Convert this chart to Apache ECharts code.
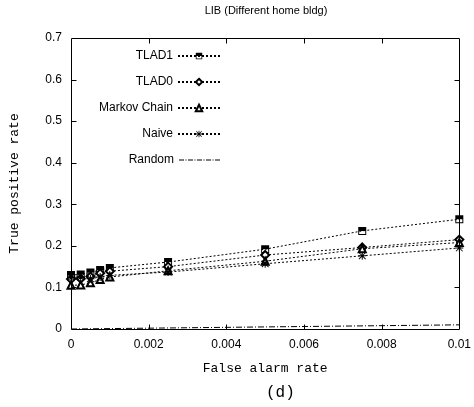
<!DOCTYPE html>
<html>
<head>
<meta charset="utf-8">
<script src="https://cdn.jsdelivr.net/npm/echarts@6/dist/echarts.min.js"></script>
<style>
  html, body { margin: 0; padding: 0; background: #fff; }
  #chart { width: 474px; height: 407px; }
</style>
</head>
<body>
<div id="chart"></div>
<script>
// False alarm rate sample points
const falseAlarm = [0, 0.00025, 0.0005, 0.00075, 0.001, 0.0025, 0.005, 0.0075, 0.01];
// True positive rate per detector
const tlad1  = [0.130, 0.131, 0.136, 0.142, 0.147, 0.161, 0.192, 0.236, 0.264];
const tlad0  = [0.120, 0.121, 0.126, 0.134, 0.139, 0.150, 0.178, 0.196, 0.215];
const markov = [0.105, 0.106, 0.111, 0.119, 0.125, 0.140, 0.163, 0.193, 0.208];
const naive  = [0.124, 0.125, 0.121, 0.125, 0.129, 0.137, 0.157, 0.176, 0.195];
// Random guessing baseline: TPR equals FAR
const randomX = [0, 0.01];
const randomY = [0, 0.01];
const seriesNames = ['TLAD1', 'TLAD0', 'Markov Chain', 'Naive', 'Random'];
// Tick values on the framed axes
const xTicks = [0, 0.002, 0.004, 0.006, 0.008, 0.01];
const yTicks = [0, 0.1, 0.2, 0.3, 0.4, 0.5, 0.6, 0.7];

const pairs = (xs, ys) => xs.map((x, i) => [x, ys[i]]);

// Square with filled top half (hole in the lower half)
const halfSquare = 'path://M0,0H10V10H0Z M1.2,5V8.8H8.8V5Z';
// Asterisk made of a plus and a cross
const asterisk = 'path://M4.4,0H5.6V4.4H10V5.6H5.6V10H4.4V5.6H0V4.4H4.4Z ' +
  'M1.2,0.4L5,4.2L8.8,0.4L9.6,1.2L5.8,5L9.6,8.8L8.8,9.6L5,5.8L1.2,9.6L0.4,8.8L4.2,5L0.4,1.2Z';
// Dash-dot legend sample (42 x 8 box, line through the middle)
const dashDotIcon = 'path://M0,0Z M42,8Z ' +
  'M0,3.5H5V4.5H0Z M6.5,3.5H7.5V4.5H6.5Z M9,3.5H14V4.5H9Z M15.5,3.5H16.5V4.5H15.5Z ' +
  'M18,3.5H23V4.5H18Z M24.5,3.5H25.5V4.5H24.5Z M27,3.5H32V4.5H27Z M33.5,3.5H34.5V4.5H33.5Z ' +
  'M36,3.5H41V4.5H36Z';

function lineSeries(name, data, symbol, size, border) {
  return {
    name, type: 'line', data, symbol, symbolSize: size,
    showAllSymbol: true,
    lineStyle: { color: '#000', width: 1, type: [2, 2] },
    itemStyle: { color: '#000', borderColor: '#000', borderWidth: border },
    emphasis: { disabled: true },
    z: 3
  };
}

const legends = seriesNames.map((n, i) => ({
  data: [n === 'Random' ? { name: n, icon: dashDotIcon } : n],
  orient: 'vertical',
  align: 'right',
  right: 248,
  top: 45 + 26 * i,
  itemWidth: 42,
  itemHeight: 8,
  itemGap: 0,
  selectedMode: false,
  textStyle: { fontFamily: 'Liberation Sans', fontSize: 12, color: '#000' }
}));

const labelStyle = (margin) => ({ margin, fontFamily: 'Liberation Sans', fontSize: 12, color: '#000' });
const monoName = () => ({ fontFamily: 'Liberation Mono', fontSize: 13, color: '#000' });

const option = {
  animation: false,
  backgroundColor: '#fff',
  title: {
    text: 'LIB (Different home bldg)',
    left: 266, top: 5, padding: 0, textAlign: 'center',
    textStyle: { fontFamily: 'Liberation Sans', fontSize: 11, fontWeight: 'normal', color: '#000' }
  },
  legend: legends,
  grid: { left: 71, right: 13, top: 38, bottom: 78 },
  xAxis: {
    type: 'value', min: 0, max: 0.01, interval: 0.002,
    name: 'False alarm rate', nameLocation: 'middle', nameGap: 33,
    nameTextStyle: monoName(),
    axisLine: { show: false, onZero: false },
    axisTick: { show: false },
    axisLabel: labelStyle(10),
    splitLine: { show: false }
  },
  yAxis: {
    type: 'value', min: 0, max: 0.7, interval: 0.1,
    name: 'True positive rate', nameLocation: 'middle', nameGap: 50,
    nameTextStyle: monoName(),
    axisLine: { show: false, onZero: false },
    axisTick: { show: false },
    axisLabel: labelStyle(9),
    splitLine: { show: false }
  },
  series: [
    lineSeries('TLAD1', pairs(falseAlarm, tlad1), halfSquare, 8, 0),
    lineSeries('TLAD0', pairs(falseAlarm, tlad0), 'emptyDiamond', 8, 1),
    lineSeries('Markov Chain', pairs(falseAlarm, markov), 'emptyTriangle', 7, 1),
    lineSeries('Naive', pairs(falseAlarm, naive), asterisk, 8, 0),
    {
      name: 'Random', type: 'line', data: pairs(randomX, randomY),
      symbol: 'none',
      lineStyle: { color: '#000', width: 1, type: [6, 2, 1, 2] },
      itemStyle: { color: '#000' },
      emphasis: { disabled: true },
      z: 2
    }
  ],
  graphic: [
    {
      id: 'caption', type: 'text', left: 266, top: 385,
      style: { text: '(d)', font: '16px "Liberation Mono"', fill: '#000', textAlign: 'center' }
    }
  ]
};

const chart = echarts.init(document.getElementById('chart'), null, { renderer: 'canvas' });
chart.setOption(option);

// Closed frame with inward ticks on all four sides, placed through the axis scales
const crisp = (v) => Math.round(v) + 0.5;
const lo = chart.convertToPixel({ gridIndex: 0 }, [xTicks[0], yTicks[0]]);
const hi = chart.convertToPixel({ gridIndex: 0 }, [xTicks[xTicks.length - 1], yTicks[yTicks.length - 1]]);
const L = crisp(lo[0]), B = crisp(lo[1]), R = crisp(hi[0]), T = crisp(hi[1]);
const TICK = 5;
const frameEls = [{
  id: 'frame', type: 'rect', z: 10, silent: true,
  shape: { x: L, y: T, width: R - L, height: B - T },
  style: { fill: 'none', stroke: '#000', lineWidth: 1 }
}];
const tickLine = (id, x1, y1, x2, y2) => ({
  id, type: 'line', z: 10, silent: true,
  shape: { x1, y1, x2, y2 },
  style: { stroke: '#000', lineWidth: 1 }
});
xTicks.slice(1, -1).forEach((v, i) => {
  const px = crisp(chart.convertToPixel({ xAxisIndex: 0 }, v));
  frameEls.push(tickLine('xb' + i, px, B, px, B - TICK));
  frameEls.push(tickLine('xt' + i, px, T, px, T + TICK));
});
yTicks.slice(1, -1).forEach((v, i) => {
  const py = crisp(chart.convertToPixel({ yAxisIndex: 0 }, v));
  frameEls.push(tickLine('yl' + i, L, py, L + TICK, py));
  frameEls.push(tickLine('yr' + i, R, py, R - TICK, py));
});
chart.setOption({ graphic: option.graphic.concat(frameEls) });
</script>
</body>
</html>
